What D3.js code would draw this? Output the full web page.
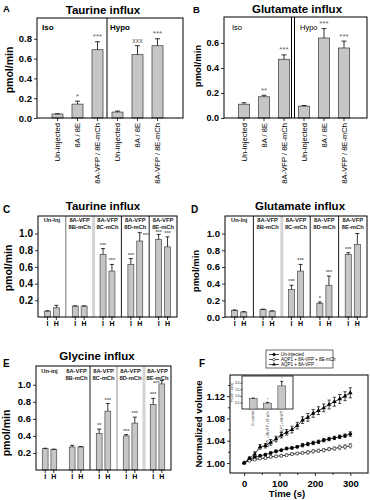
<!DOCTYPE html>
<html><head><meta charset="utf-8">
<script src="https://cdn.jsdelivr.net/npm/d3@7"></script>
<style>
html,body{margin:0;padding:0;background:#fff;}
svg{display:block;font-family:"Liberation Sans",Arial,sans-serif;}
</style></head>
<body>
<script>
// ---------- DATA ----------
const abCategories = ["Un-injected","8A / 8E","8A-VFP / 8E-mCh","Un-injected","8A / 8E","8A-VFP / 8E-mCh"];
const abConditions = ["Iso","Hypo"];
const taurineA = [0.04,0.14,0.69,0.06,0.64,0.73];
const taurineAErr = [0.003,0.03,0.08,0.01,0.09,0.07];
const taurineASig = ["","*","***","","xxx","***"];
const aTicks = [0.0,0.2,0.4,0.6,0.8];
const glutamateB = [0.11,0.17,0.47,0.095,0.64,0.56];
const glutamateBErr = [0.012,0.012,0.035,0.005,0.075,0.055];
const glutamateBSig = ["","**","***","","***","***"];
const bTicks = [0.0,0.2,0.4,0.6];

const groupLine1 = ["Un-Inj","8A-VFP","8A-VFP","8A-VFP","8A-VFP"];
const groupLine1E = ["Un-inj","8A-VFP","8A-VFP","8A-VFP","8A-VFP"];
const groupLine2 = ["","8B-mCh","8C-mCh","8D-mCh","8E-mCh"];
const conditions = ["I","H"];

const taurineC_I = [0.07,0.13,0.75,0.63,0.93];
const taurineC_IErr = [0.005,0.004,0.07,0.07,0.06];
const taurineC_H = [0.11,0.13,0.55,0.91,0.84];
const taurineC_HErr = [0.03,0.004,0.08,0.10,0.12];
const taurineC_ISig = ["","","***","***","***"];
const taurineC_HSig = ["","","***","***","***"];
const cTicks = [0.2,0.4,0.6,0.8,1.0];

const glutamateD_I = [0.08,0.09,0.33,0.16,0.75];
const glutamateD_IErr = [0.005,0.004,0.05,0.02,0.02];
const glutamateD_H = [0.06,0.07,0.55,0.38,0.87];
const glutamateD_HErr = [0.004,0.004,0.08,0.11,0.13];
const glutamateD_ISig = ["","","***","*","***"];
const glutamateD_HSig = ["","","***","***",""];
const dTicks = [0.0,0.2,0.4,0.6,0.8,1.0];

const glycineE_I = [0.25,0.27,0.43,0.40,0.77];
const glycineE_IErr = [0.005,0.02,0.05,0.015,0.07];
const glycineE_H = [0.24,0.27,0.69,0.55,1.01];
const glycineE_HErr = [0.005,0.005,0.09,0.07,0.04];
const glycineE_ISig = ["","","**","***","***"];
const glycineE_HSig = ["","","***","***","***"];
const eTicks = [0.2,0.4,0.6,0.8,1.0];

const timeS = [0,15,30,45,60,75,90,105,120,135,150,165,180,195,210,225,240,255,270,285,300];
const volUninjected = [1.000,1.007,1.010,1.013,1.015,1.018,1.021,1.023,1.026,1.027,1.029,1.032,1.034,1.036,1.038,1.041,1.043,1.045,1.047,1.049,1.052];
const volUninjectedErr = [0,0.002,0.002,0.002,0.002,0.002,0.002,0.002,0.002,0.002,0.002,0.003,0.003,0.003,0.003,0.003,0.003,0.003,0.003,0.003,0.004];
const volAqp8A8E = [1.000,1.004,1.006,1.008,1.009,1.011,1.012,1.013,1.014,1.016,1.017,1.018,1.019,1.021,1.022,1.023,1.025,1.026,1.028,1.029,1.031];
const volAqp8A8EErr = [0,0.001,0.001,0.001,0.002,0.002,0.002,0.002,0.002,0.002,0.002,0.002,0.003,0.003,0.003,0.003,0.003,0.003,0.004,0.004,0.004];
const volAqp8A = [1.000,1.008,1.016,1.029,1.031,1.037,1.043,1.050,1.055,1.060,1.067,1.077,1.082,1.089,1.094,1.099,1.105,1.110,1.115,1.120,1.126];
const volAqp8AErr = [0,0.003,0.004,0.004,0.004,0.005,0.005,0.005,0.005,0.006,0.006,0.006,0.007,0.007,0.007,0.007,0.008,0.008,0.008,0.008,0.009];
const fSeriesNames = ["Un-injected","AQP1 + 8A-VFP + 8E-mCh","AQP1 + 8A-VFP"];
const fXTicks = [0,100,200,300];
const fYTicks = [1.00,1.04,1.08,1.12];
const insetValues = [0.80,0.45,1.75];
const insetErr = [0.03,0.05,0.35];
const insetTicks = [0.5,1.0,1.5,2.0];

// ---------- SETUP ----------
const svg = d3.select("body").append("svg").attr("width",370).attr("height",500);
const FONT = '"Liberation Sans",Arial,sans-serif';
const BAR_FILL = "#c6c6c6", BAR_STROKE = "#4a4a4a";

function styleAxis(g, fs, bold){
  g.select(".domain").remove();
  g.selectAll(".tick line").attr("stroke","#000").attr("stroke-width",0.8);
  g.selectAll(".tick text").attr("font-size",fs).attr("font-weight",bold?"bold":"normal")
    .attr("font-family",FONT).attr("fill","#000");
}
function txt(x,y,s,fs,opts={}){
  const t = svg.append("text").attr("x",x).attr("y",y).text(s)
    .attr("font-size",fs).attr("font-family",FONT)
    .attr("font-weight",opts.weight||"bold").attr("fill",opts.fill||"#000")
    .attr("text-anchor",opts.anchor||"middle");
  if(opts.rotate) t.attr("transform",`rotate(-90,${x},${y})`);
  return t;
}
function errBar(g,cx,yTop,yBase,cap,color){
  g.append("line").attr("x1",cx).attr("x2",cx).attr("y1",yBase).attr("y2",yTop).attr("stroke",color||"#000").attr("stroke-width",0.8);
  g.append("line").attr("x1",cx-cap).attr("x2",cx+cap).attr("y1",yTop).attr("y2",yTop).attr("stroke",color||"#000").attr("stroke-width",0.8);
}

// ---------- PANELS A / B ----------
function panelAB(cfg){
  const {left,right,top,bottom,ymax,values,errs,sig,ticks,bandLo,bandHi,divX,tickFs} = cfg;
  const g = svg.append("g");
  const x = d3.scaleBand().domain(d3.range(values.length)).range([bandLo,bandHi]).paddingInner(0.45).paddingOuter(0.225);
  const y = d3.scaleLinear().domain([0,ymax]).range([bottom,top]);
  values.forEach((v,i)=>{
    g.append("rect").attr("x",x(i)).attr("y",y(v)).attr("width",x.bandwidth()).attr("height",y(0)-y(v))
      .attr("fill",BAR_FILL).attr("stroke",BAR_STROKE).attr("stroke-width",0.8);
    const cx = x(i)+x.bandwidth()/2;
    errBar(g,cx,y(v+errs[i]),y(v),2.5);
    if(sig[i]) g.append("text").attr("x",cx).attr("y",y(v+errs[i])-2.5).text(sig[i])
      .attr("font-size",sig[i]==="xxx"?7:8).attr("text-anchor","middle").attr("font-family",FONT).attr("fill","#666");
  });
  g.append("rect").attr("x",left).attr("y",top).attr("width",right-left).attr("height",bottom-top).attr("fill","none").attr("stroke","#000").attr("stroke-width",1);
  divX.forEach(d=>g.append("line").attr("x1",d).attr("x2",d).attr("y1",top).attr("y2",bottom).attr("stroke","#000").attr("stroke-width",1));
  const ya = g.append("g").attr("transform",`translate(${left},0)`)
    .call(d3.axisLeft(y).tickValues(ticks).tickFormat(d3.format(".1f")).tickSize(3).tickPadding(2));
  styleAxis(ya,tickFs,true);
  const xa = g.append("g").attr("transform",`translate(0,${bottom})`)
    .call(d3.axisBottom(x).tickFormat(i=>abCategories[i]).tickSize(3));
  styleAxis(xa,7.6,false);
  xa.selectAll(".tick text").attr("transform","rotate(-90)").attr("text-anchor","end")
    .attr("x",-5).attr("y",0).attr("dy","0.35em");
  return {x,y};
}
panelAB({left:37,right:183,top:18,bottom:118,ymax:1.01,values:taurineA,errs:taurineAErr,sig:taurineASig,
  ticks:aTicks,bandLo:47.5,bandHi:167.5,divX:[107],tickFs:9.5});
txt(3,12,"A",9.5,{anchor:"start"});
txt(103,14,"Taurine influx",11.5);
txt(13,70,"pmol/min",10.5,{rotate:true});
txt(42,30,abConditions[0],8,{anchor:"start"});
txt(110,30,abConditions[1],8,{anchor:"start"});
panelAB({left:224,right:367,top:17,bottom:118,ymax:0.808,values:glutamateB,errs:glutamateBErr,sig:glutamateBSig,
  ticks:bTicks,bandLo:234,bandHi:354,divX:[291.5,294.5],tickFs:9});
txt(193,13,"B",9.5,{anchor:"start"});
txt(297,13,"Glutamate influx",11.5);
txt(201,66,"pmol/min",9.5,{rotate:true});
txt(232,30,abConditions[0],7.5,{anchor:"start",weight:"normal"});
txt(300,30,abConditions[1],7.5,{anchor:"start",weight:"normal"});

// ---------- PANELS C / D / E ----------
function panelGroups(cfg){
  const {left,right,top,bottom,ymax,vI,eI,vH,eH,sI,sH,ticks,tickFs,dividers,line1,line2,headY} = cfg;
  const g = svg.append("g");
  const x = d3.scaleBand().domain(d3.range(vI.length)).range([left,right]);
  const sub = d3.scaleBand().domain(conditions).range([0,x.bandwidth()]).paddingInner(0.33).paddingOuter(0.73);
  const y = d3.scaleLinear().domain([0,ymax]).range([bottom,top]);
  dividers.forEach((st,k)=>{
    const dx = x(k+1);
    if(st==="none") return;
    if(st==="light") g.append("line").attr("x1",dx).attr("x2",dx).attr("y1",top).attr("y2",bottom).attr("stroke","#d4d4d4").attr("stroke-width",3);
    else g.append("line").attr("x1",dx).attr("x2",dx).attr("y1",top).attr("y2",bottom).attr("stroke",st).attr("stroke-width",0.9);
  });
  const series = [[vI,eI,sI,"I"],[vH,eH,sH,"H"]];
  const n = vI.length;
  const head2 = headY+7;
  d3.range(n).forEach(i=>{
    series.forEach(([v,e,s,c])=>{
      const bx = x(i)+sub(c), cx = bx+sub.bandwidth()/2;
      g.append("rect").attr("x",bx).attr("y",y(v[i])).attr("width",sub.bandwidth()).attr("height",y(0)-y(v[i]))
        .attr("fill",BAR_FILL).attr("stroke",BAR_STROKE).attr("stroke-width",0.7);
      errBar(g,cx,y(v[i]+e[i]),y(v[i]),2);
      if(s[i]){
        const capY = y(v[i]+e[i]);
        let sx = cx, sy = capY-2, anchor = "middle";
        if(sy-4 < head2+1){
          if(c==="H" && i<n-1){ sx = cx+3; sy = capY+4; anchor="start"; }
          else if(c==="H"){ sx = cx-2.5; sy = capY+4.5; anchor="end"; }
          else { sy = capY-0.8; }
        }
        g.append("text").attr("x",sx).attr("y",sy).text(s[i])
          .attr("font-size",5.5).attr("text-anchor",anchor).attr("font-family",FONT).attr("fill","#666").attr("font-weight","bold");
      }
    });
    const hx = x(i)+x.bandwidth()/2;
    g.append("text").attr("x",hx).attr("y",headY).text(line1[i]).attr("font-size",5.8).attr("font-weight","bold")
      .attr("text-anchor","middle").attr("font-family",FONT).attr("fill","#222");
    if(line2[i]) g.append("text").attr("x",hx).attr("y",head2).text(line2[i]).attr("font-size",5.8).attr("font-weight","bold")
      .attr("text-anchor","middle").attr("font-family",FONT).attr("fill","#222");
    const sa = g.append("g").attr("transform",`translate(${x(i)},${bottom})`).call(d3.axisBottom(sub).tickSize(3).tickPadding(1));
    styleAxis(sa,7,true);
  });
  g.append("rect").attr("x",left).attr("y",top).attr("width",right-left).attr("height",bottom-top).attr("fill","none").attr("stroke","#000").attr("stroke-width",1);
  const ya = g.append("g").attr("transform",`translate(${left},0)`)
    .call(d3.axisLeft(y).tickValues(ticks).tickFormat(d3.format(".1f")).tickSize(3).tickPadding(2));
  styleAxis(ya,tickFs,true);
}
panelGroups({left:38,right:177,top:216,bottom:317,ymax:1.21,vI:taurineC_I,eI:taurineC_IErr,vH:taurineC_H,eH:taurineC_HErr,
  sI:taurineC_ISig,sH:taurineC_HSig,ticks:cTicks,tickFs:10,dividers:["#666","light","#000","#000"],line1:groupLine1,line2:groupLine2,headY:222});
txt(3,213,"C",10,{anchor:"start"});
txt(103,210,"Taurine influx",11.5);
txt(12,268,"pmol/min",10.5,{rotate:true});
panelGroups({left:225,right:367,top:216,bottom:317,ymax:1.21,vI:glutamateD_I,eI:glutamateD_IErr,vH:glutamateD_H,eH:glutamateD_HErr,
  sI:glutamateD_ISig,sH:glutamateD_HSig,ticks:dTicks,tickFs:9.5,dividers:["#000","light","#000","#000"],line1:groupLine1,line2:groupLine2,headY:222});
txt(191,213,"D",10,{anchor:"start"});
txt(300,210,"Glutamate influx",11.5);
txt(199,271,"pmol/min",9.5,{rotate:true});
panelGroups({left:36,right:171,top:366,bottom:470,ymax:1.22,vI:glycineE_I,eI:glycineE_IErr,vH:glycineE_H,eH:glycineE_HErr,
  sI:glycineE_ISig,sH:glycineE_HSig,ticks:eTicks,tickFs:9.5,dividers:["none","#000","#888","light"],line1:groupLine1E,line2:groupLine2,headY:373});
txt(3,367,"E",10,{anchor:"start"});
txt(97,360,"Glycine influx",11.5);
txt(10,433,"pmol/min",10.5,{rotate:true});

// ---------- PANEL F ----------
(function(){
  const left=230,right=368,top=375,bottom=473;
  const g = svg.append("g");
  const x = d3.scaleLinear().domain([-40,350]).range([left,right]);
  const y = d3.scaleLinear().domain([0.982,1.158]).range([bottom,top]);
  g.append("rect").attr("x",left).attr("y",top).attr("width",right-left).attr("height",bottom-top).attr("fill","none").attr("stroke","#000").attr("stroke-width",1);
  const ya = g.append("g").attr("transform",`translate(${left},0)`)
    .call(d3.axisLeft(y).tickValues(fYTicks).tickFormat(d3.format(".2f")).tickSize(3).tickPadding(2));
  styleAxis(ya,9.5,true);
  const ym = g.append("g").attr("transform",`translate(${left},0)`)
    .call(d3.axisLeft(y).tickValues([1.02,1.06,1.10,1.14]).tickFormat("").tickSize(2));
  styleAxis(ym,1,false);
  const xa = g.append("g").attr("transform",`translate(0,${bottom})`)
    .call(d3.axisBottom(x).tickValues(fXTicks).tickSize(3).tickPadding(4));
  styleAxis(xa,9.5,true);
  const xm = g.append("g").attr("transform",`translate(0,${bottom})`)
    .call(d3.axisBottom(x).tickValues([50,150,250]).tickFormat("").tickSize(2));
  styleAxis(xm,1,false);

  const iL=242,iR=293,iT=376,iB=409;
  const ix = d3.scaleBand().domain(d3.range(insetValues.length)).range([iL+3,iR-3]).paddingInner(0.45).paddingOuter(0.3);
  const iy = d3.scaleLinear().domain([0,2.5]).range([iB,iT]);
  g.append("rect").attr("x",iL).attr("y",iT).attr("width",iR-iL).attr("height",iB-iT).attr("fill","#fff").attr("stroke","#000").attr("stroke-width",0.8);
  insetValues.forEach((v,i)=>{
    g.append("rect").attr("x",ix(i)).attr("y",iy(v)).attr("width",ix.bandwidth()).attr("height",iB-iy(v))
      .attr("fill",BAR_FILL).attr("stroke",BAR_STROKE).attr("stroke-width",0.6);
    const cx = ix(i)+ix.bandwidth()/2;
    errBar(g,cx,iy(v+insetErr[i]),iy(v),1.5);
    g.append("text").attr("transform",`translate(${cx+1},${iB+2}) rotate(-90)`).attr("text-anchor","end")
      .text(fSeriesNames[i]).attr("font-size",3).attr("font-family",FONT).attr("fill","#444");
  });
  g.append("text").attr("x",ix(1)+ix.bandwidth()/2).attr("y",iy(insetValues[1]+insetErr[1])-1.5).text("*").attr("font-size",4).attr("text-anchor","middle").attr("fill","#444");
  g.append("text").attr("x",ix(2)+ix.bandwidth()/2).attr("y",iy(insetValues[2]+insetErr[2])-1.5).text("*").attr("font-size",4).attr("text-anchor","middle").attr("fill","#444");
  const iya = g.append("g").attr("transform",`translate(${iL},0)`)
    .call(d3.axisLeft(iy).tickValues(insetTicks).tickFormat(d3.format(".1f")).tickSize(1.5).tickPadding(1));
  styleAxis(iya,3,false);
  g.append("text").attr("transform",`translate(${iL-9},${(iT+iB)/2}) rotate(-90)`).attr("text-anchor","middle")
    .text("Pf (x10⁻³ cm/s)").attr("font-size",3).attr("font-family",FONT).attr("fill","#444");

  const seriesF = [
    {v:volUninjected,e:volUninjectedErr,mark:"filled",ec:"#000"},
    {v:volAqp8A8E,e:volAqp8A8EErr,mark:"open",ec:"#777"},
    {v:volAqp8A,e:volAqp8AErr,mark:"tri",ec:"#000"}
  ];
  const line = d3.line().x((d,i)=>x(timeS[i])).y(d=>y(d));
  seriesF.forEach(s=>{
    s.v.forEach((d,i)=>{ if(s.e[i]>0){
      const cx=x(timeS[i]);
      g.append("line").attr("x1",cx).attr("x2",cx).attr("y1",y(d-s.e[i])).attr("y2",y(d+s.e[i])).attr("stroke",s.ec).attr("stroke-width",0.7);
      [d-s.e[i],d+s.e[i]].forEach(yy=>g.append("line").attr("x1",cx-1.6).attr("x2",cx+1.6).attr("y1",y(yy)).attr("y2",y(yy)).attr("stroke",s.ec).attr("stroke-width",0.7));
    }});
    g.append("path").datum(s.v).attr("d",line).attr("fill","none").attr("stroke","#000").attr("stroke-width",0.8);
  });
  function marker(gg,type,cx,cy,sz){
    if(type==="tri") gg.append("path").attr("d",d3.symbol(d3.symbolTriangle,sz||9)()).attr("transform",`translate(${cx},${cy})`).attr("fill","#000");
    else gg.append("circle").attr("cx",cx).attr("cy",cy).attr("r",sz?1.3:1.5).attr("fill",type==="open"?"#fff":"#000").attr("stroke","#000").attr("stroke-width",0.6);
  }
  seriesF.forEach(s=>s.v.forEach((d,i)=>marker(g,s.mark,x(timeS[i]),y(d))));

  const lg = svg.append("g");
  lg.append("rect").attr("x",266).attr("y",350).attr("width",67).attr("height",18).attr("fill","#fff").attr("stroke","#000").attr("stroke-width",0.6);
  fSeriesNames.forEach((n,i)=>{
    const ly = 354.5+i*5;
    lg.append("line").attr("x1",269).attr("x2",279).attr("y1",ly).attr("y2",ly).attr("stroke","#000").attr("stroke-width",0.7);
    marker(lg,seriesF[i].mark,274,ly,i===2?6:1);
    lg.append("text").attr("x",281).attr("y",ly+1.5).text(n).attr("font-size",4.5).attr("font-family",FONT).attr("fill","#000");
  });

  txt(199,367,"F",10,{anchor:"start"});
  txt(287,497,"Time (s)",9.5);
  txt(202,424,"Normalized volume",9.5,{rotate:true});
})();
</script>
</body></html>
